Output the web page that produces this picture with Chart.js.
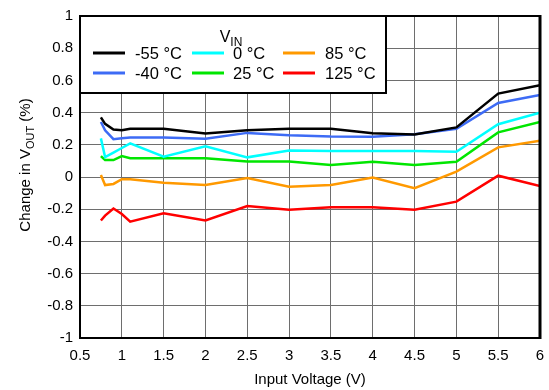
<!DOCTYPE html>
<html>
<head>
<meta charset="utf-8">
<script src="https://cdn.jsdelivr.net/npm/chart.js@4"></script>
<style>
  html, body { margin: 0; padding: 0; background: #fff; }
  #wrap { width: 549px; height: 390px; position: relative; }
</style>
</head>
<body>
<div id="wrap"><canvas id="chart"></canvas></div>
<script>
// ── DATA ─────────────────────────────────────────
const xValues = [0.75, 0.8, 0.9, 1.0, 1.1, 1.5, 2, 2.5, 3, 3.5, 4, 4.5, 5, 5.5, 6];
const tempLabels = ['-55 °C', '-40 °C', '0 °C', '25 °C', '85 °C', '125 °C'];
const tempColors = ['#000000', '#3d6bf5', '#00ffff', '#00e600', '#ff9900', '#ff0000'];

const minus55 = [0.37, 0.33, 0.295, 0.29, 0.30, 0.30, 0.27, 0.29, 0.30, 0.30, 0.272, 0.264, 0.308, 0.518, 0.57];
const minus40 = [0.342, 0.29, 0.235, 0.24, 0.246, 0.246, 0.237, 0.274, 0.26, 0.252, 0.25, 0.266, 0.30, 0.46, 0.51];
const zero    = [0.24, 0.124, 0.152, 0.18, 0.209, 0.126, 0.19, 0.122, 0.165, 0.161, 0.161, 0.161, 0.157, 0.328, 0.40];
const plus25  = [0.13, 0.105, 0.105, 0.13, 0.116, 0.116, 0.116, 0.097, 0.097, 0.074, 0.095, 0.074, 0.095, 0.277, 0.342];
const plus85  = [0.012, -0.05, -0.043, -0.014, -0.014, -0.035, -0.05, -0.006, -0.06, -0.05, -0.004, -0.07, 0.033, 0.184, 0.225];
const plus125 = [-0.27, -0.24, -0.196, -0.23, -0.277, -0.225, -0.27, -0.18, -0.204, -0.188, -0.188, -0.204, -0.153, 0.008, -0.056];

const seriesValues = [minus55, minus40, zero, plus25, plus85, plus125];

const FONT = '"Liberation Sans", Arial, sans-serif';

// texto com subscrito: partes [{t, sub}]
function drawParts(ctx, parts, x, y, size, align) {
  const subSize = Math.round(size * 0.72);
  let total = 0;
  parts.forEach(p => {
    ctx.font = (p.sub ? subSize : size) + 'px ' + FONT;
    total += ctx.measureText(p.t).width;
  });
  let cx = align === 'center' ? x - total / 2 : x;
  ctx.textAlign = 'left';
  ctx.textBaseline = 'alphabetic';
  parts.forEach(p => {
    ctx.font = (p.sub ? subSize : size) + 'px ' + FONT;
    ctx.fillText(p.t, cx, p.sub ? y + size * 0.25 : y);
    cx += ctx.measureText(p.t).width;
  });
}

// ── PLUGIN: moldura, títulos e legenda ───────────
const decorPlugin = {
  id: 'decor',
  afterDraw(chart) {
    const { ctx, chartArea: a } = chart;
    ctx.save();

    // moldura do gráfico
    ctx.strokeStyle = '#000';
    ctx.lineWidth = 2;
    ctx.strokeRect(a.left, a.top, a.right - a.left, a.bottom - a.top);
    ctx.lineWidth = 3;
    ctx.beginPath();
    ctx.moveTo(a.right, a.top - 1);
    ctx.lineTo(a.right, a.bottom + 1);
    ctx.stroke();

    // legenda
    const lx = a.left, ly = a.top, lw = 306, lh = 77;
    ctx.lineWidth = 2;
    ctx.fillStyle = '#fff';
    ctx.fillRect(lx, ly, lw, lh);
    ctx.strokeRect(lx, ly, lw, lh);
    ctx.fillStyle = '#000';
    drawParts(ctx, [{ t: 'V' }, { t: 'IN', sub: true }], lx + 151, ly + 26, 16, 'center');

    const colLine = [93, 192, 283];
    const colText = [135, 233, 325];
    const rowY = [53, 73];
    chart.data.datasets.forEach((ds, i) => {
      const c = Math.floor(i / 2), r = i % 2;
      ctx.strokeStyle = ds.borderColor;
      ctx.lineWidth = 3;
      ctx.beginPath();
      ctx.moveTo(colLine[c], rowY[r]);
      ctx.lineTo(colLine[c] + 32, rowY[r]);
      ctx.stroke();
      ctx.fillStyle = '#000';
      ctx.font = '16.5px ' + FONT;
      ctx.textAlign = 'left';
      ctx.textBaseline = 'middle';
      ctx.fillText(ds.label, colText[c], rowY[r] + 1);
    });

    // títulos dos eixos
    ctx.fillStyle = '#000';
    drawParts(ctx, [{ t: 'Input Voltage (V)' }], (a.left + a.right) / 2, 384, 15, 'center');
    ctx.translate(30, 165);
    ctx.rotate(-Math.PI / 2);
    drawParts(ctx, [{ t: 'Change in V' }, { t: 'OUT', sub: true }, { t: ' (%)' }], 0, 0, 15, 'center');

    ctx.restore();
  }
};

// ── CHART ────────────────────────────────────────
new Chart(document.getElementById('chart'), {
  type: 'line',
  data: {
    datasets: tempLabels.map((label, i) => ({
      label,
      data: xValues.map((x, j) => ({ x, y: seriesValues[i][j] })),
      borderColor: tempColors[i],
      backgroundColor: tempColors[i],
      borderWidth: 2.5,
      pointRadius: 0,
      tension: 0,
    })),
  },
  options: {
    responsive: true,
    maintainAspectRatio: false,
    animation: false,
    layout: { padding: { top: 15, right: 9, left: 0, bottom: 0 } },
    plugins: { legend: { display: false }, tooltip: { enabled: false } },
    scales: {
      x: {
        type: 'linear',
        min: 0.5,
        max: 6,
        afterFit: s => { s.height = 52; s.paddingRight = 0; },
        grid: { color: '#6e6e6e', lineWidth: 1, drawTicks: false },
        border: { display: false },
        ticks: {
          stepSize: 0.5,
          padding: 9,
          color: '#000',
          font: { family: FONT, size: 15 },
          callback: v => String(Math.round(v * 10) / 10),
        },
      },
      y: {
        min: -1,
        max: 1,
        afterFit: s => { s.width = 80; },
        grid: { color: '#6e6e6e', lineWidth: 1, drawTicks: false },
        border: { display: false },
        ticks: {
          stepSize: 0.2,
          padding: 7,
          color: '#000',
          font: { family: FONT, size: 15 },
          callback: v => String(Math.round(v * 10) / 10),
        },
      },
    },
  },
  plugins: [decorPlugin],
});
</script>
</body>
</html>
